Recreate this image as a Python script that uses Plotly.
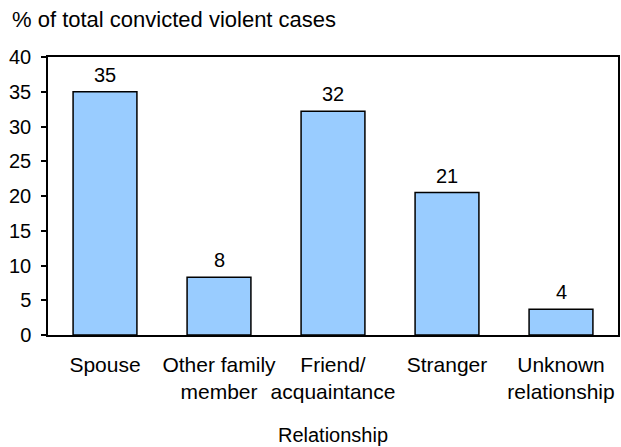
import plotly.graph_objects as go

categories = ["Spouse", "Other family<br>member", "Friend/<br>acquaintance", "Stranger", "Unknown<br>relationship"]
percent = [35.0, 8.3, 32.2, 20.5, 3.7]
value_labels = ["35", "8", "32", "21", "4"]
y_ticks = [0, 5, 10, 15, 20, 25, 30, 35, 40]

font_name = "Liberation Sans, Arial, sans-serif"

fig = go.Figure()
fig.add_trace(go.Bar(
    x=categories,
    y=percent,
    marker=dict(color="#99ccff", line=dict(color="black", width=1.5)),
    hoverinfo="x+y",
))

for c, v, lab in zip(categories, percent, value_labels):
    fig.add_annotation(x=c, y=v, text=lab, showarrow=False,
                       yanchor="bottom", yshift=4,
                       font=dict(size=20, color="black", family=font_name))

fig.update_layout(
    width=621, height=447, autosize=False,
    margin=dict(l=48, r=3, t=57, b=112),
    paper_bgcolor="white", plot_bgcolor="white",
    font=dict(family=font_name, size=20, color="black"),
    bargap=0.44,
    showlegend=False,
    title=dict(text="% of total convicted violent cases", x=12/621, xanchor="left",
               xref="container", y=1 - 12/447, yanchor="top", yref="container",
               font=dict(size=22, family=font_name, color="black")),
)
fig.update_xaxes(
    showline=True, linecolor="black", linewidth=1.5, mirror=True,
    ticks="", showgrid=False, ticklabelstandoff=10, tickangle=0, automargin=False,
    title=dict(text="Relationship", standoff=26, font=dict(size=20)),
    tickfont=dict(size=21),
)
fig.update_yaxes(
    range=[0, 40], tickvals=y_ticks, showline=True, linecolor="black", linewidth=1.5,
    mirror=True, ticks="outside", ticklen=5, tickwidth=1.5, tickcolor="black",
    showgrid=False, zeroline=False, tickfont=dict(size=20), ticklabelstandoff=6,
    automargin=False,
)

# drop the page's default body margin so the figure fills the window
fig.write_html("out.html", config={"displayModeBar": False},
               post_script="document.body.style.margin='0';document.body.style.overflow='hidden';")
